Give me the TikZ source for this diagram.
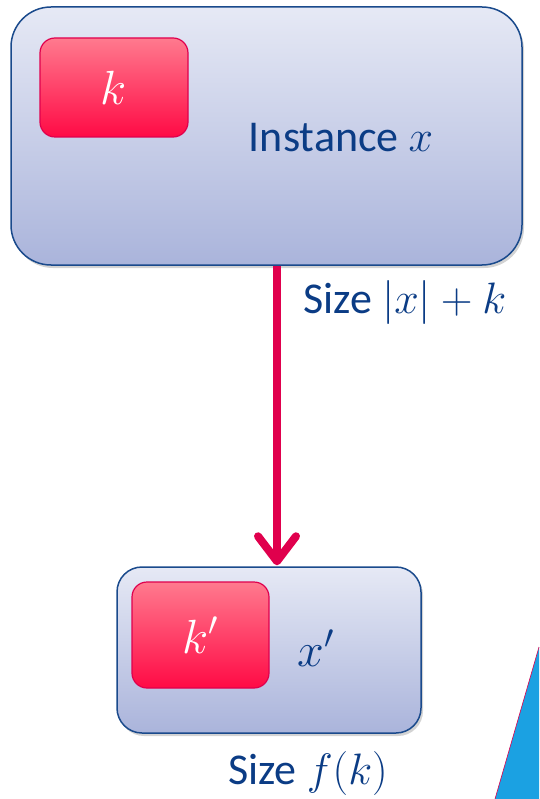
\RequirePackage{fix-cm}
\documentclass[tikz,border=0pt]{standalone}
\usepackage{fontspec}
\setmainfont{Carlito}
\usetikzlibrary{arrows.meta,shadows}
\definecolor{txtblue}{HTML}{0B3C85}
\definecolor{boxedge}{HTML}{1A4A8C}
\definecolor{boxtop}{HTML}{E6E9F5}
\definecolor{boxbot}{HTML}{AAB4DB}
\definecolor{redtop}{HTML}{FF7A8E}
\definecolor{redbot}{HTML}{FF0A45}
\definecolor{rededge}{HTML}{E0004D}
\definecolor{triblue}{HTML}{1BA1E2}
\tikzset{
  bigbox/.style={draw=boxedge, line width=1.5pt, top color=boxtop, bottom color=boxbot,
    drop shadow={shadow xshift=2pt, shadow yshift=-3pt, opacity=0.35}},
  redbox/.style={draw=rededge, line width=1.2pt, top color=redtop, bottom color=redbot,
    rounded corners=15pt, text=white, font=\fontsize{48}{52}\selectfont},
  lbl/.style={text=txtblue, font=\fontsize{44}{48}\selectfont, inner sep=0pt},
  redarrow/.style={draw=rededge, line width=8pt,
    -{Straight Barb[length=25pt,width=38pt,line cap=round,line join=round]}}
}
\begin{document}
\begin{tikzpicture}[x=1pt,y=-1pt]
\useasboundingbox (0,0) rectangle (539,799);
% blue triangle
\fill[triblue] (539,647) -- (495,799) -- (539,799) -- cycle;
\draw[rededge, line width=0.6pt] (539,647) -- (495,799);
% top box
\node[bigbox, rounded corners=40pt, minimum width=511pt, minimum height=258pt, inner sep=0pt] (top) at (266.5,136) {};
\node[redbox, minimum width=148pt, minimum height=99pt, inner sep=0pt] (k) at (114,87.5) {$k$};
\node[lbl] (inst) at (341,138) {Instance $x$};
% bottom box
\node[bigbox, rounded corners=25pt, minimum width=304pt, minimum height=166pt, inner sep=0pt] (bot) at (269,650) {};
\node[redbox, minimum width=137pt, minimum height=106pt, inner sep=0pt] (kp) at (200.5,635) {$k'$};
\node[lbl, font=\fontsize{48}{52}\selectfont] (xp) at (316,648) {$x'$};
% arrow
\coordinate (ax) at (277,0);
\draw[redarrow] (top.south -| ax) -- ([yshift=1pt]bot.north -| ax);
\node[lbl] (size1) at (405,302) {Size $|x|+k$};
\node[lbl] (size2) at (308,773) {Size $f(k)$};
\end{tikzpicture}
\end{document}
